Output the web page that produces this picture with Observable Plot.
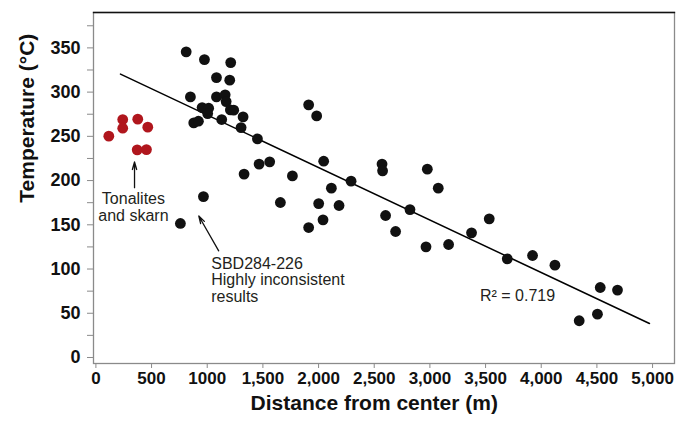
<!DOCTYPE html>
<html>
<head>
<meta charset="utf-8">
<script src="https://cdn.jsdelivr.net/npm/d3@7"></script>
<script src="https://cdn.jsdelivr.net/npm/@observablehq/plot@0.6"></script>
<style>
  html, body { margin: 0; padding: 0; background: #fff; }
  #chart svg { display: block; }
</style>
</head>
<body>
<div id="chart"></div>
<script>
// Black samples: distance from center (m) and temperature (°C)
const distBlack = [811, 975, 1211, 1083, 1202, 849, 1083, 1161, 1170, 954, 1013, 1004, 1208, 1238, 1322, 879, 921, 1130, 1304, 1451,
  1911, 1331, 1466, 1561, 1765, 966, 1657, 759, 1911, 1983, 2046, 2115, 2292, 2001, 2184, 2040, 2570, 2575, 2977, 3075,
  2821, 2602, 2692, 2965, 3168, 3374, 3533, 3695, 3922, 4123, 4341, 4505, 4530, 4685];
const tempBlack = [345.5, 336.8, 333.4, 316.4, 313.5, 294.6, 294.6, 296.9, 289.3, 282.5, 281.8, 275.7, 279.9, 279.6, 272, 265.2, 267.1, 269, 259.9, 247.1,
  285.6, 207.3, 218.6, 221.2, 205.3, 181.9, 175.2, 151.5, 146.9, 273.1, 221.9, 191.4, 199.3, 174, 171.8, 155.6, 218.6, 211, 212.9, 191.4,
  167.2, 160.5, 142.4, 125.1, 127.7, 140.9, 156.7, 111.5, 115.3, 104.4, 41.5, 49, 79.1, 76.2];
// Red samples (tonalites and skarn)
const distRed = [116, 241, 241, 376, 466, 371, 454];
const tempRed = [250.2, 269, 259.2, 269.4, 260.4, 234.7, 235];
// Regression line end points
const fitDist = [221, 4972];
const fitTemp = [320.3, 38.4];
// Ticks
const xTicks = [0, 500, 1000, 1500, 2000, 2500, 3000, 3500, 4000, 4500, 5000];
const xTickLabels = ["0", "500", "1000", "1,500", "2,000", "2,500", "3,000", "3,500", "4,000", "4,500", "5,000"];
const yTicks = [0, 25, 50, 75, 100, 125, 150, 175, 200, 225, 250, 275, 300, 325, 350, 375];
const yTickLabels = ["0", "", "50", "", "100", "", "150", "", "200", "", "250", "", "300", "", "350", ""];
// Texts
const xTitle = "Distance from center (m)";
const yTitle = "Temperature (°C)";
const noteCenterText = ["Tonalites\nand skarn"];
const noteCenterDist = [337];
const noteCenterTemp = [169.7];
const noteLeftTexts = ["SBD284-226\nHighly inconsistent\nresults", "R\u00B2 = 0.719"];
const noteLeftDist = [1036, 3450];
const noteLeftTemp = [87.5, 69.7];
const arrowFromDist = [347, 1103];
const arrowFromTemp = [192, 120.6];
const arrowToDist = [347, 924];
const arrowToTemp = [221, 160];

const black = distBlack.map((d, i) => ({d, t: tempBlack[i]}));
const red = distRed.map((d, i) => ({d, t: tempRed[i]}));
const fit = fitDist.map((d, i) => ({d, t: fitTemp[i]}));
const notesC = noteCenterText.map((s, i) => ({s, d: noteCenterDist[i], t: noteCenterTemp[i]}));
const notesL = noteLeftTexts.map((s, i) => ({s, d: noteLeftDist[i], t: noteLeftTemp[i]}));
const arrows = arrowFromDist.map((d, i) => ({x1: d, y1: arrowFromTemp[i], x2: arrowToDist[i], y2: arrowToTemp[i]}));

const font = "'Liberation Sans', Arial, Helvetica, sans-serif";
const xMid = d3.mean(d3.extent(xTicks));
const yMid = d3.mean(d3.extent(yTicks.filter((v, i) => yTickLabels[i] !== "")));

const chart = Plot.plot({
  width: 688,
  height: 421,
  marginLeft: 93,
  marginRight: 14,
  marginTop: 12,
  marginBottom: 58,
  style: {fontFamily: font, background: "#fff", color: "#111", overflow: "visible"},
  x: {domain: [-21.5, 5197]},
  y: {domain: [-6.8, 390]},
  marks: [
    Plot.frame({stroke: "#8a8a8a", strokeWidth: 1.3}),
    Plot.frame({anchor: "top", stroke: "#111", strokeWidth: 1.3}),
    Plot.axisX({ticks: xTicks, tickFormat: d => xTickLabels[xTicks.indexOf(d)], tickSize: 5, tickPadding: 3,
      stroke: "#8a8a8a", fill: "#111", fontSize: 17, fontWeight: "bold", label: null}),
    Plot.axisY({ticks: yTicks, tickFormat: d => yTickLabels[yTicks.indexOf(d)], tickSize: 6, tickPadding: 7,
      stroke: "#8a8a8a", fill: "#111", fontSize: 18, fontWeight: "bold", label: null}),
    Plot.text([xTitle], {frameAnchor: "bottom", x: () => xMid, dy: 46, fontSize: 21, fontWeight: "bold", fill: "#111"}),
    Plot.text([yTitle], {frameAnchor: "left", y: () => yMid, dx: -66, rotate: -90, fontSize: 21, fontWeight: "bold", fill: "#111"}),
    Plot.line(fit, {x: "d", y: "t", stroke: "#000", strokeWidth: 1.5}),
    Plot.dot(black, {x: "d", y: "t", r: 5.4, fill: "#111", stroke: "none"}),
    Plot.dot(red, {x: "d", y: "t", r: 5.4, fill: "#b0161d", stroke: "none"}),
    Plot.arrow(arrows, {x1: "x1", y1: "y1", x2: "x2", y2: "y2", stroke: "#111", strokeWidth: 1.3, headLength: 9, headAngle: 32}),
    Plot.text(notesC, {x: "d", y: "t", text: "s", textAnchor: "middle", fontSize: 16, lineHeight: 1.07, fill: "#231f20"}),
    Plot.text(notesL, {x: "d", y: "t", text: "s", textAnchor: "start", fontSize: 16, lineHeight: 1.04, fill: "#231f20"})
  ]
});
document.getElementById("chart").appendChild(chart);
</script>
</body>
</html>
